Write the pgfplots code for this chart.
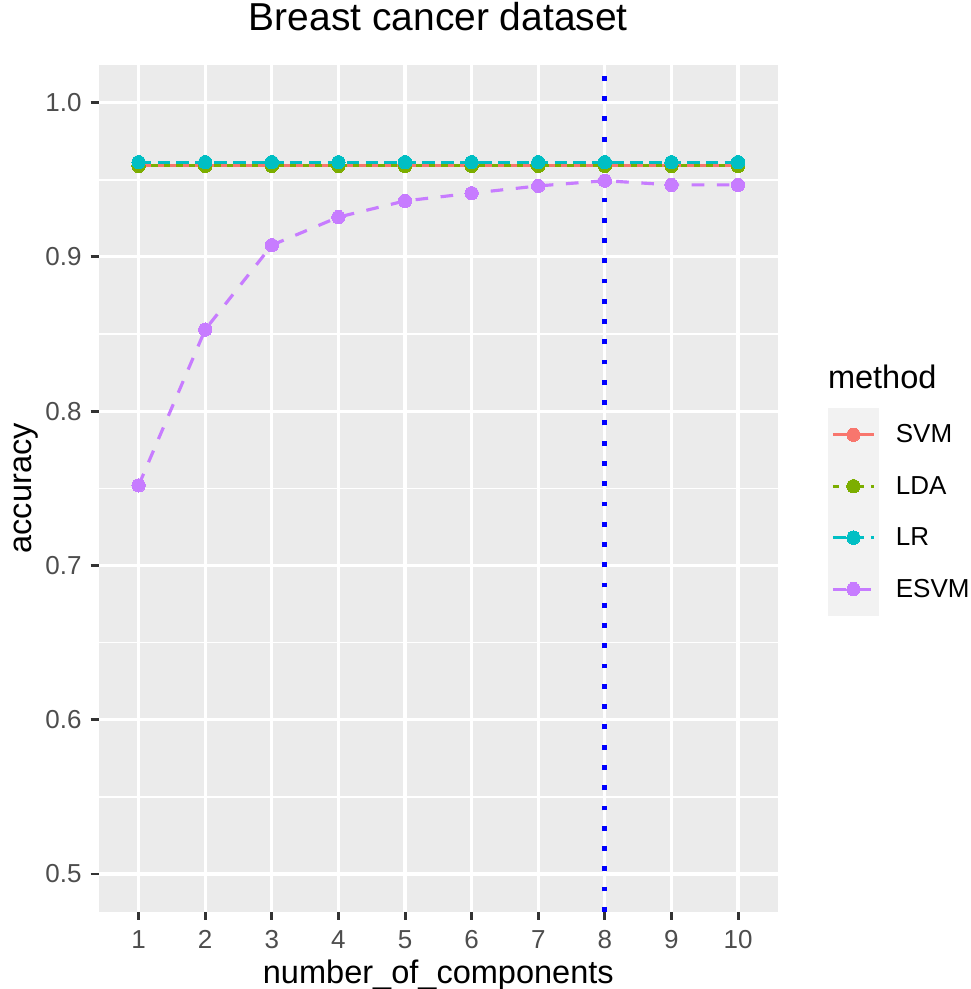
\documentclass[border=0pt]{standalone}
\usepackage{fontspec}
\setmainfont{Liberation Sans}
\usepackage{pgfplots}
\pgfplotsset{compat=1.18}

\definecolor{svm}{HTML}{F8766D}
\definecolor{lda}{HTML}{7CAE00}
\definecolor{lr}{HTML}{00BFC4}
\definecolor{esvm}{HTML}{C77CFF}
\definecolor{panelbg}{HTML}{EBEBEB}
\definecolor{keybg}{HTML}{F2F2F2}
\definecolor{tickc}{HTML}{333333}
\definecolor{labc}{HTML}{4D4D4D}

% legend key: grey tile, a short line with the mark in its middle
\pgfplotsset{
  ggkey/.style={
    legend image code/.code={
      \fill[keybg, draw=none, overlay] (0pt,-19.8pt) rectangle (38.6pt,19.8pt);
      \path[draw=none, fill=none] (0pt,-19.3pt) rectangle (38.6pt,19.3pt);
      \draw[mark repeat=2,mark phase=2,##1]
        plot coordinates {(3.9pt,0pt) (19.3pt,0pt) (34.7pt,0pt)};
      \path[draw=none, fill=none] (51.1pt,0pt);
    }
  }
}

\begin{document}
\begin{tikzpicture}
\path[use as bounding box] (0,0) rectangle (728.25pt,741.75pt);
\begin{axis}[
  at={(74.0pt,58.0pt)}, anchor=south west,
  scale only axis, width=509.5pt, height=635.0pt,
  xmin=0.4, xmax=10.6, ymin=0.4756, ymax=1.0244,
  axis background/.style={fill=panelbg},
  axis line style={draw=none},
  xtick={1,...,10},
  ytick={0.5,0.6,0.7,0.8,0.9,1.0},
  minor ytick={0.55,0.65,0.75,0.85,0.95},
  grid=both,
  major grid style={white, line width=2.36pt},
  minor grid style={white, line width=1.18pt},
  tick align=outside,
  major tick length=6pt,
  minor tick length=0pt,
  tick style={tickc, line width=2.2pt},
  xtick pos=bottom, ytick pos=left,
  /pgf/number format/assume math mode=true,
  /pgf/number format/.cd, fixed, fixed zerofill, precision=1, /pgfplots/.cd,
  xticklabel={\pgfmathprintnumber[fixed,precision=0,zerofill=false]{\tick}},
  ticklabel style={font=\fontsize{19.5pt}{19.5pt}\selectfont, text=labc, inner sep=0pt},
  xticklabel style={anchor=north, yshift=-7.75pt},
  yticklabel style={anchor=east, xshift=-6.7pt},
  title={Breast cancer dataset},
  title style={at={(axis description cs:0.5,1)}, anchor=base, yshift=19.5pt,
    font=\fontsize{29.2pt}{29.2pt}\selectfont, inner sep=0pt},
  xlabel={number\_of\_components},
  xlabel style={at={(axis description cs:0.5,0)}, anchor=base, yshift=-53.5pt,
    font=\fontsize{24.4pt}{24.4pt}\selectfont, inner sep=0pt},
  ylabel={accuracy},
  ylabel style={at={(axis description cs:0,0.5)}, anchor=base, yshift=50pt,
    font=\fontsize{24.4pt}{24.4pt}\selectfont, inner sep=0pt},
  legend style={at={(axis description cs:1.0732,0.5937)}, anchor=north west,
    draw=none, fill=none, inner sep=0pt, outer sep=0pt, row sep=0pt,
    font=\fontsize{19.5pt}{19.5pt}\selectfont,
    nodes={inner sep=0pt, outer sep=0pt}},
  legend cell align=left,
  every axis plot/.append style={line width=2.36pt, line cap=butt, ggkey,
    mark=*, mark size=5pt, mark options={solid, line width=0pt}},
]
% lines first
\addplot[svm, mark=none, forget plot] coordinates {
  (1,0.9590) (2,0.9590) (3,0.9590) (4,0.9590) (5,0.9590)
  (6,0.9590) (7,0.9590) (8,0.9590) (9,0.9590) (10,0.9590)};
\addplot[lda, mark=none, forget plot, dash pattern=on 4.73pt off 4.73pt] coordinates {
  (1,0.9590) (2,0.9590) (3,0.9590) (4,0.9590) (5,0.9590)
  (6,0.9590) (7,0.9590) (8,0.9590) (9,0.9590) (10,0.9590)};
\addplot[lr, mark=none, forget plot, dash pattern=on 9.45pt off 4.73pt] coordinates {
  (1,0.9614) (2,0.9614) (3,0.9614) (4,0.9614) (5,0.9614)
  (6,0.9614) (7,0.9614) (8,0.9614) (9,0.9614) (10,0.9614)};
\addplot[esvm, mark=none, forget plot, dash pattern=on 9.45pt off 9.45pt] coordinates {
  (1,0.7519) (2,0.8529) (3,0.9076) (4,0.9258) (5,0.9363)
  (6,0.9413) (7,0.9460) (8,0.9494) (9,0.9467) (10,0.9467)};
% then the points
\addplot[svm, only marks, forget plot] coordinates {
  (1,0.9590) (2,0.9590) (3,0.9590) (4,0.9590) (5,0.9590)
  (6,0.9590) (7,0.9590) (8,0.9590) (9,0.9590) (10,0.9590)};
\addplot[lda, only marks, forget plot] coordinates {
  (1,0.9590) (2,0.9590) (3,0.9590) (4,0.9590) (5,0.9590)
  (6,0.9590) (7,0.9590) (8,0.9590) (9,0.9590) (10,0.9590)};
\addplot[lr, only marks, forget plot] coordinates {
  (1,0.9614) (2,0.9614) (3,0.9614) (4,0.9614) (5,0.9614)
  (6,0.9614) (7,0.9614) (8,0.9614) (9,0.9614) (10,0.9614)};
\addplot[esvm, only marks, forget plot] coordinates {
  (1,0.7519) (2,0.8529) (3,0.9076) (4,0.9258) (5,0.9363)
  (6,0.9413) (7,0.9460) (8,0.9494) (9,0.9467) (10,0.9467)};
% chosen number of components
\addplot[blue, mark=none, forget plot, line width=3.6pt,
  dash pattern=on 3.6pt off 11.6pt] coordinates {(8,0.4756) (8,1.0244)};
% legend entries
\addlegendimage{svm, line width=2.36pt, mark=*, mark size=5pt, mark options={solid, line width=0pt}}
\addlegendentry{SVM}
\addlegendimage{lda, line width=2.36pt, dash pattern=on 4.73pt off 4.73pt, mark=*, mark size=5pt, mark options={solid, line width=0pt}}
\addlegendentry{LDA}
\addlegendimage{lr, line width=2.36pt, dash pattern=on 9.45pt off 4.73pt, mark=*, mark size=5pt, mark options={solid, line width=0pt}}
\addlegendentry{LR}
\addlegendimage{esvm, line width=2.36pt, dash pattern=on 9.45pt off 9.45pt, mark=*, mark size=5pt, mark options={solid, line width=0pt}}
\addlegendentry{ESVM}
\end{axis}
\node[anchor=base west, inner sep=0pt, font=\fontsize{24.4pt}{24.4pt}\selectfont]
  at (620.8pt,450.0pt) {method};
\end{tikzpicture}
\end{document}
